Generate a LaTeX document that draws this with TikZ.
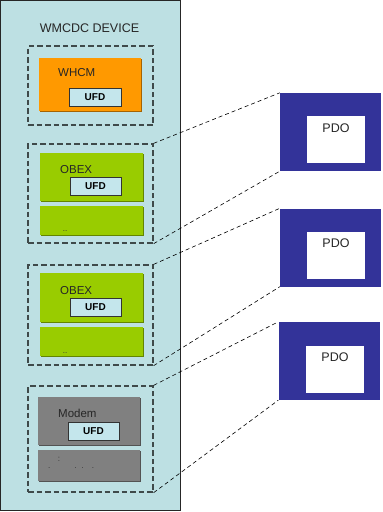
\documentclass[tikz,border=0pt]{standalone}
\usepackage{fontspec}
\setmainfont{Liberation Sans}
\usetikzlibrary{shadows}
\definecolor{devfill}{HTML}{BDE0E3}
\definecolor{whcmfill}{HTML}{FF9900}
\definecolor{obexfill}{HTML}{99CC00}
\definecolor{modemfill}{HTML}{808080}
\definecolor{pdofill}{HTML}{333399}
\definecolor{ufdfill}{HTML}{C4E6EC}
\definecolor{grpline}{HTML}{3F4A4A}
\tikzset{
  grpbox/.style={draw=grpline, line width=1.3pt, dash pattern=on 5.5pt off 3pt,
    minimum width=125pt, inner sep=0pt},
  compbox/.style={fill=#1, draw=none, inner sep=0pt,
    drop shadow={fill=#1!65!black, opacity=1, shadow xshift=1.2pt, shadow yshift=-1.2pt}},
  ufdbox/.style={fill=ufdfill, draw=black!80, line width=1pt, minimum width=52pt,
    minimum height=18pt, inner sep=0pt, font=\fontsize{10}{10}\selectfont\bfseries},
  pdobox/.style={fill=pdofill, draw=none, inner sep=0pt},
  pdoinner/.style={fill=white, draw=none, minimum width=58pt, minimum height=47pt, inner sep=0pt},
  label/.style={anchor=west, inner sep=0pt, font=\fontsize{11.5}{12}\selectfont, text=black!85},
  specks/.style={inner sep=0pt, font=\fontsize{8}{8}\selectfont, text=black!80},
  link/.style={black, line width=0.6pt, dash pattern=on 4pt off 3pt}
}
\begin{document}
\begin{tikzpicture}[x=1pt, y=-1pt]
\useasboundingbox (0,0) rectangle (383,512);
% device frame
\node[fill=devfill, draw=black!85, line width=1pt, minimum width=180pt, minimum height=510pt,
  inner sep=0pt] (device) at (90.5,255.5) {};
\node[font=\fontsize{12.5}{13}\selectfont, text=black!85] (title) at (89.5,28) {WMCDC DEVICE};
% dashed groups
\node[grpbox, minimum height=79pt] (grp1) at (90.5,85.5) {};
\node[grpbox, minimum height=99pt] (grp2) at (90.5,193.5) {};
\node[grpbox, minimum height=100pt] (grp3) at (90.5,315) {};
\node[grpbox, minimum height=106pt] (grp4) at (90.5,439) {};
% functions
\node[compbox=whcmfill, minimum width=102pt, minimum height=53pt] (whcm) at (90,84.5) {};
\node[label] (whcmlbl) at (58,73) {WHCM};
\node[ufdbox] (ufd1) at (95,97) {UFD};
\node[compbox=obexfill, minimum width=103pt, minimum height=48pt] (obexa) at (91.5,177) {};
\node[compbox=obexfill, minimum width=103pt, minimum height=29pt] (obexa2) at (91.5,220.5) {};
\node[label] (obexalbl) at (60,170) {OBEX};
\node[ufdbox, minimum width=51pt] (ufd2) at (95.5,186) {UFD};
\node[specks] (dotsa) at (65,231) {..};
\node[compbox=obexfill, minimum width=103pt, minimum height=49pt] (obexb) at (91.5,297.5) {};
\node[compbox=obexfill, minimum width=103pt, minimum height=29pt] (obexb2) at (91.5,341.5) {};
\node[label] (obexblbl) at (60,291) {OBEX};
\node[ufdbox, minimum width=51pt] (ufd3) at (95.5,307) {UFD};
\node[specks] (dotsb) at (65,353) {..};
\node[compbox=modemfill, minimum width=102pt, minimum height=48pt] (modem) at (89,421) {};
\node[compbox=modemfill, minimum width=102pt, minimum height=31pt] (modem2) at (89,465.5) {};
\node[label] (modemlbl) at (58,413.5) {Modem};
\node[ufdbox, minimum width=51pt] (ufd4) at (93.5,431) {UFD};
\node[specks] (dotsc) at (59,459) {:};
\node[specks, anchor=west] (dotsd) at (48,468) {.\hspace{24pt}.\hspace{5pt}.\hspace{8pt}.};
% PDO blocks
\foreach \n/\x/\y/\ix/\iy/\ty in {1/330.5/132/336/139.5/128.5, 2/330.5/247.5/336/255/243.5, 3/329/361/335/369/357.5}{
  \node[pdobox, minimum width=101pt, minimum height=78pt] (pdo\n) at (\x,\y) {};
  \node[pdoinner] (pdoin\n) at (\ix,\iy) {};
  \node[inner sep=0pt, font=\fontsize{12.5}{13}\selectfont, text=black!85] (pdolbl\n) at (\ix,\ty) {PDO};
}
% links
\draw[link] (grp2.north east) -- (pdo1.north west);
\draw[link] (grp2.south east) -- (pdo1.south west);
\draw[link] (grp3.north east) -- (pdo2.north west);
\draw[link] (grp3.south east) -- (pdo2.south west);
\draw[link] (grp4.north east) -- (pdo3.north west);
\draw[link] (grp4.south east) -- (pdo3.south west);
\end{tikzpicture}
\end{document}
